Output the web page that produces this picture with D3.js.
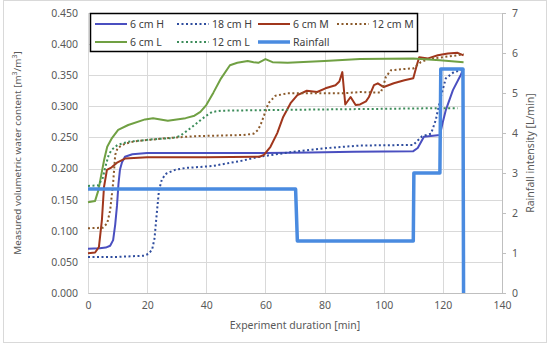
<!DOCTYPE html>
<html>
<head>
<meta charset="utf-8">
<script src="https://cdn.jsdelivr.net/npm/d3@7"></script>
<style>
  body { margin: 0; background: #fff; }
  svg text { font-family: "Noto Sans", sans-serif; }
</style>
</head>
<body>
<div id="chart"></div>
<script>
// values
const h6T = [0, 4, 6, 7.5, 8.5, 9.2, 9.8, 10.3, 10.8, 11.5, 12.5, 15, 20, 40, 60, 75, 90, 110, 111.5, 113.6, 119, 120, 121, 123.4, 126, 127];
const h6V = [0.071, 0.072, 0.073, 0.076, 0.085, 0.11, 0.14, 0.175, 0.198, 0.21, 0.219, 0.223, 0.225, 0.225, 0.225, 0.226, 0.227, 0.228, 0.233, 0.251, 0.254, 0.275, 0.294, 0.326, 0.35, 0.36];

const h18T = [0, 10, 19, 20.5, 21.7, 22.5, 23.2, 24, 25, 26.5, 29.5, 33, 42, 52.5, 58, 69.5, 81, 92, 110, 111.5, 113, 116, 117.6, 119.3, 121, 123.7, 126, 127];
const h18V = [0.058, 0.058, 0.06, 0.063, 0.07, 0.088, 0.125, 0.165, 0.183, 0.192, 0.198, 0.201, 0.204, 0.213, 0.219, 0.227, 0.233, 0.237, 0.238, 0.245, 0.252, 0.256, 0.278, 0.315, 0.345, 0.355, 0.358, 0.36];

const m6T = [0, 2.4, 3.7, 4.7, 5.4, 6.4, 8, 10, 12.5, 20, 40, 58, 59.5, 61.7, 64, 66, 68.5, 70.8, 74, 77.5, 80.3, 83.7, 85, 86, 87, 88.8, 90.5, 92, 94, 95, 96.7, 98, 100, 103.4, 107, 110, 111, 112, 115, 118.3, 121.7, 125, 127];
const m6V = [0.064, 0.065, 0.074, 0.117, 0.17, 0.198, 0.202, 0.21, 0.216, 0.218, 0.218, 0.219, 0.222, 0.235, 0.257, 0.283, 0.305, 0.318, 0.325, 0.323, 0.329, 0.334, 0.34, 0.355, 0.303, 0.315, 0.302, 0.303, 0.308, 0.315, 0.334, 0.337, 0.331, 0.337, 0.342, 0.345, 0.363, 0.379, 0.377, 0.382, 0.385, 0.386, 0.382];

const m12T = [0, 5, 6.5, 7.5, 8.5, 9.2, 10, 12.5, 16, 27, 36, 52.5, 56, 57.5, 58.5, 59.5, 61, 63.4, 67.5, 86.5, 92, 99, 100, 100.7, 102.4, 106.8, 110, 112.5, 115, 120, 125, 127];
const m12V = [0.104, 0.105, 0.112, 0.133, 0.177, 0.222, 0.233, 0.24, 0.244, 0.249, 0.252, 0.254, 0.256, 0.262, 0.272, 0.285, 0.305, 0.317, 0.321, 0.321, 0.323, 0.322, 0.335, 0.347, 0.358, 0.36, 0.361, 0.371, 0.376, 0.379, 0.382, 0.384];

const l6T = [0, 2.4, 3.5, 4.7, 5.5, 6.5, 8.1, 10.2, 13.6, 19.3, 22, 27, 33, 36, 38, 40, 42.4, 45, 48, 50.5, 54, 56, 57.6, 60, 62.4, 67.5, 80, 92, 110, 119, 124, 127];
const l6V = [0.146, 0.148, 0.165, 0.195, 0.215, 0.235, 0.249, 0.262, 0.27, 0.279, 0.281, 0.277, 0.281, 0.285, 0.291, 0.302, 0.322, 0.345, 0.366, 0.37, 0.373, 0.371, 0.37, 0.376, 0.371, 0.37, 0.373, 0.376, 0.377, 0.374, 0.372, 0.371];

const l12T = [0, 3.5, 5, 6, 7, 8, 10, 13.6, 21.7, 28.5, 31, 33, 35, 37.3, 40, 42, 45, 60, 80, 100, 118, 125];
const l12V = [0.172, 0.173, 0.185, 0.205, 0.222, 0.23, 0.238, 0.243, 0.247, 0.249, 0.252, 0.259, 0.266, 0.275, 0.285, 0.291, 0.293, 0.294, 0.295, 0.296, 0.297, 0.297];

const rainT = [0, 70.2, 70.8, 110, 110.2, 119, 119.3, 126.8, 127];
const rainV = [2.6, 2.6, 1.3, 1.3, 3.0, 3.0, 5.6, 5.6, 0];

const xTicks = [0, 20, 40, 60, 80, 100, 120, 140];
const yTicks = [0, 0.05, 0.1, 0.15, 0.2, 0.25, 0.3, 0.35, 0.4, 0.45];
const y2Ticks = [0, 1, 2, 3, 4, 5, 6, 7];

const series = [
  { name: "6 cm H", t: h6T, v: h6V, color: "#4a4fc0", dash: null },
  { name: "18 cm H", t: h18T, v: h18V, color: "#2f4d9e", dash: "2,2.5" },
  { name: "6 cm M", t: m6T, v: m6V, color: "#a0361c", dash: null },
  { name: "12 cm M", t: m12T, v: m12V, color: "#8b5a2b", dash: "2,2.5" },
  { name: "6 cm L", t: l6T, v: l6V, color: "#70a043", dash: null },
  { name: "12 cm L", t: l12T, v: l12V, color: "#3c8c5a", dash: "2,2.5" }
];

const W = 550, H = 346;
const margin = { top: 13, right: 48, bottom: 53, left: 88 };
const innerW = W - margin.left - margin.right;
const innerH = H - margin.top - margin.bottom;

const svg = d3.select("#chart").append("svg")
  .attr("width", W)
  .attr("height", H);

// outer chart frame
svg.append("rect")
  .attr("x", 3.5).attr("y", 0.5)
  .attr("width", 543).attr("height", 342)
  .attr("fill", "#fff")
  .attr("stroke", "#d9d9d9");

const g = svg.append("g").attr("transform", `translate(${margin.left},${margin.top})`);

const x = d3.scaleLinear().domain([0, 140]).range([0, innerW]);
const y = d3.scaleLinear().domain([0, 0.45]).range([innerH, 0]);
const y2 = d3.scaleLinear().domain([0, 7]).range([innerH, 0]);

// grid
g.append("g")
  .selectAll("line.h")
  .data(yTicks)
  .join("line")
  .attr("x1", 0).attr("x2", innerW)
  .attr("y1", d => Math.round(y(d)) + 0.5).attr("y2", d => Math.round(y(d)) + 0.5)
  .attr("stroke", "#d9d9d9");

g.append("g")
  .selectAll("line.v")
  .data(xTicks)
  .join("line")
  .attr("x1", d => Math.round(x(d)) + 0.5).attr("x2", d => Math.round(x(d)) + 0.5)
  .attr("y1", 0).attr("y2", innerH)
  .attr("stroke", "#d9d9d9");

// axes
const xAxis = g.append("g")
  .attr("transform", `translate(0,${innerH})`)
  .call(d3.axisBottom(x).tickValues(xTicks).tickSize(0).tickPadding(9));
xAxis.select(".domain").attr("stroke", "#bfbfbf");

const yAxis = g.append("g")
  .call(d3.axisLeft(y).tickValues(yTicks).tickFormat(d3.format(".3f")).tickSize(0).tickPadding(10));
yAxis.select(".domain").remove();

const y2Axis = g.append("g")
  .attr("transform", `translate(${innerW},0)`)
  .call(d3.axisRight(y2).tickValues(y2Ticks).tickFormat(d3.format("d")).tickSize(4).tickPadding(6));
y2Axis.select(".domain").attr("stroke", "#bfbfbf");
y2Axis.selectAll(".tick line").attr("stroke", "#bfbfbf");

g.selectAll(".tick text")
  .attr("fill", "#595959")
  .style("font-size", "10.5px");

// series lines
const line = d3.line()
  .x(d => x(d[0]))
  .y(d => y(d[1]));

series.forEach(s => {
  g.append("path")
    .datum(s.t.map((t, i) => [t, s.v[i]]))
    .attr("d", line)
    .attr("fill", "none")
    .attr("stroke", s.color)
    .attr("stroke-width", 2)
    .attr("stroke-dasharray", s.dash)
    .attr("stroke-linejoin", "round");
});

const rainLine = d3.line()
  .x(d => x(d[0]))
  .y(d => y2(d[1]));

g.append("path")
  .datum(rainT.map((t, i) => [t, rainV[i]]))
  .attr("d", rainLine)
  .attr("fill", "none")
  .attr("stroke", "#4a8be0")
  .attr("stroke-width", 3.5)
  .attr("stroke-linejoin", "round");

// axis titles
svg.append("text")
  .attr("transform", `translate(21,${margin.top + innerH / 2}) rotate(-90)`)
  .attr("text-anchor", "middle")
  .attr("fill", "#595959")
  .style("font-size", "9.8px")
  .html('Measured volumetric water content  [m<tspan baseline-shift="super" font-size="7px">3</tspan>/m<tspan baseline-shift="super" font-size="7px">3</tspan>]');

svg.append("text")
  .attr("transform", `translate(534,${margin.top + innerH / 2}) rotate(-90)`)
  .attr("text-anchor", "middle")
  .attr("fill", "#595959")
  .style("font-size", "10.5px")
  .text("Rainfall intensity [L/min]");

svg.append("text")
  .attr("x", 295).attr("y", 329)
  .attr("text-anchor", "middle")
  .attr("fill", "#595959")
  .style("font-size", "10.5px")
  .text("Experiment duration [min]");

// legend
const legendItems = series.map(s => ({ name: s.name, color: s.color, dash: s.dash, w: 2 }))
  .concat([{ name: "Rainfall", color: "#4a8be0", dash: null, w: 3.5 }]);
const colX = [95, 177, 258, 337];

const legend = svg.append("g");
legend.append("rect")
  .attr("x", 90.5).attr("y", 13.5)
  .attr("width", 327).attr("height", 38)
  .attr("fill", "#fff")
  .attr("stroke", "#000")
  .attr("stroke-width", 1.5);

legendItems.forEach((d, i) => {
  const row = i < 4 ? 0 : 1;
  const col = i < 4 ? i : i - 4;
  const lx = colX[col], ly = row === 0 ? 24 : 42;
  legend.append("line")
    .attr("x1", lx).attr("x2", lx + 32)
    .attr("y1", ly).attr("y2", ly)
    .attr("stroke", d.color)
    .attr("stroke-width", d.w)
    .attr("stroke-dasharray", d.dash);
  legend.append("text")
    .attr("x", lx + 35).attr("y", ly + 4)
    .attr("fill", "#404040")
    .style("font-size", "10.5px")
    .text(d.name);
});
</script>
</body>
</html>
